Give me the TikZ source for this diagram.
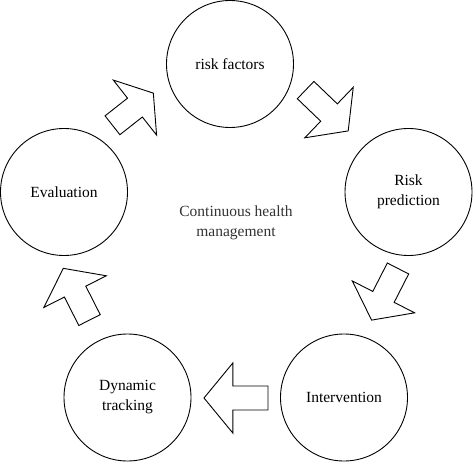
\documentclass[tikz,border=0pt]{standalone}
\usepackage{fontspec}
\setmainfont{Liberation Serif}
\usetikzlibrary{calc}

\tikzset{
	stage/.style = {circle, draw, line width = 0.9pt, minimum size = 127pt, inner sep = 0pt,
			align = center, font = \fontsize{15.5}{20}\selectfont},
	arrowline/.style = {line width = 0.9pt, line join = miter},
}

% block arrow: centre, angle, length
\newcommand{\blockarrow}[3]{
	\pgfmathsetmacro{\hh}{#3/2}
	\pgfmathsetmacro{\hb}{#3/2 - 0.45*#3}
	\draw[arrowline, shift = {#1}, rotate = #2]
	(-\hh, 12) -- (\hb, 12) -- (\hb, 35) -- (\hh, 0) -- (\hb, -35) -- (\hb, -12) -- (-\hh, -12) -- cycle;
}

\begin{document}
\begin{tikzpicture}[x = 1pt, y = 1pt]
	\useasboundingbox (0, 0) rectangle (473, -462);

	\node[stage] (rf) at (230, -64) {risk factors};
	\node[stage] (rp) at (408.5, -192) {Risk\\prediction};
	\node[stage] (iv) at (344, -397.5) {Intervention};
	\node[stage] (dt) at (127.5, -397.5) {Dynamic\\tracking};
	\node[stage] (ev) at (64, -192) {Evaluation};

	\node[align = center, text = black!80, font = \fontsize{15.5}{20}\selectfont] (cm) at (236, -222.5)
		{Continuous health\\management};

	\blockarrow{(132.9, -109.2)}{38.2}{52}
	\blockarrow{(326.9, -110.5)}{-43.8}{59}
	\blockarrow{(384.8, -294.3)}{-117.1}{58}
	\blockarrow{(236, -398)}{180}{64}
	\blockarrow{(76.4, -294.2)}{116.9}{58}
\end{tikzpicture}
\end{document}
